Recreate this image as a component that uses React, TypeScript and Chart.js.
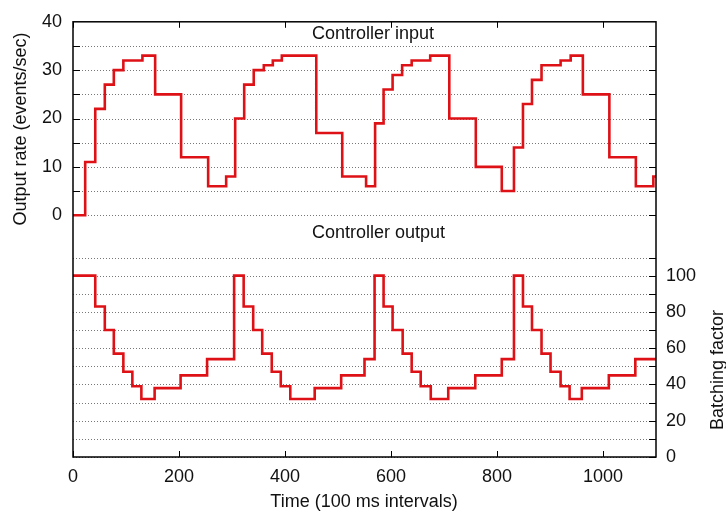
import React, { useEffect, useRef } from "react";
import { Chart, registerables } from "chart.js";

Chart.register(...registerables);

// Controller input: output rate (events/sec), stepped, value holds from time until next time
const inputTimes = [0, 23, 42, 60, 77, 95, 131, 155, 204, 255, 289, 306, 323, 341, 360, 377, 394, 459, 508, 553, 570, 586, 603, 621, 639, 674, 710, 760, 809, 832, 849, 866, 884, 920, 939, 962, 1012, 1062, 1095, 1100];
const inputRates = [0, 11, 22, 27, 30, 32, 33, 25, 12, 6, 8, 20, 27, 30, 31, 32, 33, 17, 8, 6, 19, 26, 29, 31, 32, 33, 20, 10, 5, 14, 23, 28, 31, 32, 33, 25, 12, 6, 8, 8];

// Controller output: batching factor
const outputTimes = [0, 42, 60, 77, 95, 112, 129, 154, 203, 253, 304, 322, 340, 357, 375, 392, 410, 456, 506, 550, 569, 586, 603, 622, 639, 656, 675, 708, 759, 809, 832, 849, 866, 884, 901, 920, 937, 960, 1011, 1061, 1100];
const outputFactors = [100, 83, 70, 57, 47, 39, 32, 38, 45, 54, 100, 83, 70, 57, 47, 39, 32, 38, 45, 54, 100, 83, 70, 57, 47, 39, 32, 38, 45, 54, 100, 83, 70, 57, 47, 39, 32, 38, 45, 54, 54];

// Axis ticks
const xTicks = [0, 200, 400, 600, 800, 1000];
const leftTickLabels = [0, 10, 20, 30, 40];
const leftGrid = [0, 5, 10, 15, 20, 25, 30, 35];
const rightTickLabels = [0, 20, 40, 60, 80, 100];
const rightGrid = [0, 10, 20, 30, 40, 50, 60, 70, 80, 90, 100, 110];

const FONT = '"Liberation Sans", Arial, Helvetica, sans-serif';
const RED = "rgb(222, 18, 22)";

const framePlugin = {
  id: "gnuframe",
  beforeDatasetsDraw(chart: any) {
    const { ctx, chartArea: a, scales } = chart;
    const y = scales.y, y2 = scales.y2, x = scales.x;
    ctx.save();
    ctx.lineWidth = 1;
    ctx.strokeStyle = "#777";
    ctx.setLineDash([1, 2]);
    const hline = (py: number) => {
      const p = Math.round(py) + 0.5;
      ctx.beginPath();
      ctx.moveTo(a.left, p);
      ctx.lineTo(a.right, p);
      ctx.stroke();
    };
    leftGrid.forEach((v) => hline(y.getPixelForValue(v)));
    rightGrid.forEach((v) => hline(y2.getPixelForValue(v)));
    ctx.setLineDash([]);
    ctx.strokeStyle = "#000";
    const tl = 7;
    leftGrid.forEach((v) => {
      const p = Math.round(y.getPixelForValue(v)) + 0.5;
      ctx.beginPath();
      ctx.moveTo(a.left, p);
      ctx.lineTo(a.left + tl, p);
      ctx.moveTo(a.right, p);
      ctx.lineTo(a.right - tl, p);
      ctx.stroke();
    });
    rightGrid.forEach((v) => {
      const p = Math.round(y2.getPixelForValue(v)) + 0.5;
      ctx.beginPath();
      ctx.moveTo(a.right, p);
      ctx.lineTo(a.right - tl, p);
      ctx.stroke();
    });
    xTicks.forEach((v) => {
      const p = Math.round(x.getPixelForValue(v)) + 0.5;
      ctx.beginPath();
      ctx.moveTo(p, a.bottom);
      ctx.lineTo(p, a.bottom - 6);
      ctx.moveTo(p, a.top);
      ctx.lineTo(p, a.top + 6);
      ctx.stroke();
    });
    ctx.restore();
  },
  afterDatasetsDraw(chart: any) {
    const { ctx, chartArea: a } = chart;
    ctx.save();
    ctx.strokeStyle = "#000";
    ctx.lineWidth = 1.5;
    ctx.strokeRect(a.left, a.top, a.right - a.left, a.bottom - a.top);
    ctx.fillStyle = "#111";
    ctx.font = `18px ${FONT}`;
    ctx.textAlign = "left";
    ctx.textBaseline = "middle";
    ctx.fillText("Controller input", 312, 34);
    ctx.fillText("Controller output", 312, 233);
    ctx.textAlign = "center";
    ctx.fillText("Time (100 ms intervals)", 364, 502);
    ctx.save();
    ctx.translate(21, 129);
    ctx.rotate(-Math.PI / 2);
    ctx.fillText("Output rate (events/sec)", 0, 0);
    ctx.restore();
    ctx.save();
    ctx.translate(718, 370);
    ctx.rotate(-Math.PI / 2);
    ctx.fillText("Batching factor", 0, 0);
    ctx.restore();
    ctx.restore();
  },
};

export default function App() {
  const ref = useRef<HTMLCanvasElement | null>(null);
  useEffect(() => {
    if (!ref.current) return;
    const tickFont = { family: FONT, size: 18 };
    const chart = new Chart(ref.current, {
      type: "line",
      data: {
        datasets: [
          {
            label: "Controller input",
            data: inputTimes.map((t, i) => ({ x: t, y: inputRates[i] })),
            yAxisID: "y",
            borderColor: RED,
            borderWidth: 2.6,
            pointRadius: 0,
            stepped: "before",
            fill: false,
          },
          {
            label: "Controller output",
            data: outputTimes.map((t, i) => ({ x: t, y: outputFactors[i] })),
            yAxisID: "y2",
            borderColor: RED,
            borderWidth: 2.6,
            pointRadius: 0,
            stepped: "before",
            fill: false,
          },
        ],
      },
      options: {
        animation: false,
        responsive: false,
        devicePixelRatio: 1,
        layout: { padding: { top: 18, left: 0, right: 0, bottom: 0 } },
        plugins: { legend: { display: false }, tooltip: { enabled: false } },
        scales: {
          x: {
            type: "linear",
            min: 0,
            max: 1100,
            grid: { display: false, drawTicks: false },
            border: { display: false },
            afterBuildTicks: (s: any) => {
              s.ticks = xTicks.map((v) => ({ value: v }));
            },
            afterFit: (s: any) => {
              s.height = 57;
            },
            ticks: {
              autoSkip: false,
              maxRotation: 0,
              padding: 9,
              color: "#111",
              font: tickFont,
              callback: (v: any) => String(v),
            },
          },
          y: {
            type: "linear",
            position: "left",
            min: -50,
            max: 40,
            grid: { display: false, drawTicks: false },
            border: { display: false },
            afterBuildTicks: (s: any) => {
              s.ticks = leftTickLabels.map((v) => ({ value: v }));
            },
            afterFit: (s: any) => {
              s.width = 73;
            },
            ticks: {
              autoSkip: false,
              padding: 11,
              color: "#111",
              font: tickFont,
              callback: (v: any) => String(v),
            },
          },
          y2: {
            type: "linear",
            position: "right",
            min: 0,
            max: 240,
            grid: { display: false, drawTicks: false },
            border: { display: false },
            afterBuildTicks: (s: any) => {
              s.ticks = rightTickLabels.map((v) => ({ value: v }));
            },
            afterFit: (s: any) => {
              s.width = 70;
            },
            ticks: {
              autoSkip: false,
              padding: 10,
              color: "#111",
              font: tickFont,
              callback: (v: any) => String(v),
            },
          },
        },
      },
      plugins: [framePlugin],
    } as any);
    return () => chart.destroy();
  }, []);
  return (
    <div style={{ position: "fixed", left: 0, top: 0, width: 726, height: 514, background: "#fff" }}>
      <canvas ref={ref} width={726} height={514} />
    </div>
  );
}
